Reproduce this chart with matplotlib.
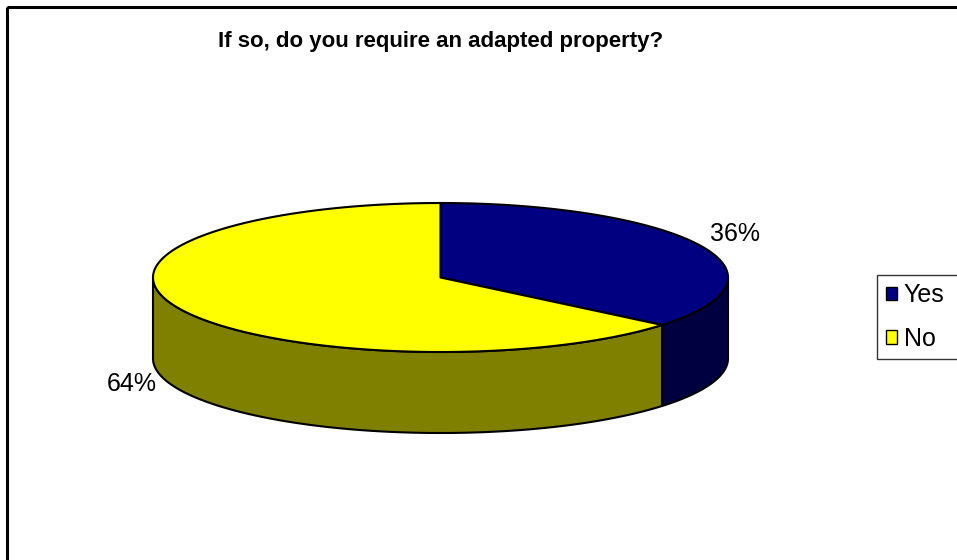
import numpy as np
import matplotlib.pyplot as plt
from matplotlib.patches import Polygon, Rectangle, Patch

# Survey answers
labels = ["Yes", "No"]
shares = [36, 64]
top_colors = ["#000080", "#FFFF00"]
side_colors = ["#000040", "#808000"]
title = "If so, do you require an adapted property?"

W, H = 957, 560
fig = plt.figure(figsize=(W / 100, H / 100), dpi=100)
ax = fig.add_axes([0, 0, 1, 1])
ax.set_xlim(0, W)
ax.set_ylim(H, 0)
ax.axis("off")

# ellipse geometry of the pie (pixel units, y down)
cx, cy = 440.5, 277.5
rx, ry = 287.5, 74.5
depth = 81
lw = 1.5


def arc(t0, t1, dy=0.0, n=200):
    t = np.radians(np.linspace(t0, t1, n))
    return np.column_stack([cx + rx * np.cos(t), cy - ry * np.sin(t) + dy])


# slice angles, clockwise from 12 o'clock
fracs = np.array(shares, dtype=float) / sum(shares)
ends = 90 - 360 * np.cumsum(fracs)
starts = np.concatenate([[90], ends[:-1]])

# side walls: only the front half (-180..0 deg) is visible
for a0, a1, col in zip(starts, ends, side_colors):
    f0, f1 = max(min(a0, a1), -180), min(max(a0, a1), 0)
    if f1 <= f0:
        continue
    top = arc(f0, f1)
    bot = arc(f1, f0, dy=depth)
    ax.add_patch(Polygon(np.vstack([top, bot]), closed=True, facecolor=col,
                         edgecolor="black", linewidth=lw, joinstyle="round"))

# top faces
for a0, a1, col in zip(starts, ends, top_colors):
    pts = np.vstack([[cx, cy], arc(a0, a1)])
    ax.add_patch(Polygon(pts, closed=True, facecolor=col, edgecolor="black",
                         linewidth=lw, joinstyle="round"))

# percentage labels
label_pos = [(735, 234), (132, 384)]
for s, (lx, ly) in zip(shares, label_pos):
    ax.text(lx, ly, f"{s}%", fontsize=18, family="Liberation Sans",
            ha="center", va="center")

ax.text(cx, 42, title, fontsize=16, fontweight="bold",
        family="Liberation Sans", ha="center", va="center")

# chart area frame
ax.add_patch(Rectangle((7, 7), W, H, fill=False, edgecolor="black",
                       linewidth=2.2, clip_on=True))

# legend box runs off the right edge of the canvas
handles = [Patch(facecolor=c, edgecolor="black", linewidth=1) for c in top_colors]
leg = ax.legend(handles, labels, loc="upper left", mode="expand",
                bbox_to_anchor=(877 / W, 1 - 275 / H - 0.2, 0.1, 0.2),
                bbox_transform=fig.transFigure,
                prop={"family": "Liberation Sans", "size": 18},
                handlelength=0.45, handleheight=0.45, handletextpad=0.28,
                labelspacing=0.77, borderpad=0.34, borderaxespad=0,
                frameon=True, fancybox=False, edgecolor="black")
leg.get_frame().set_linewidth(1)

fig.savefig("out.png", dpi=100)
